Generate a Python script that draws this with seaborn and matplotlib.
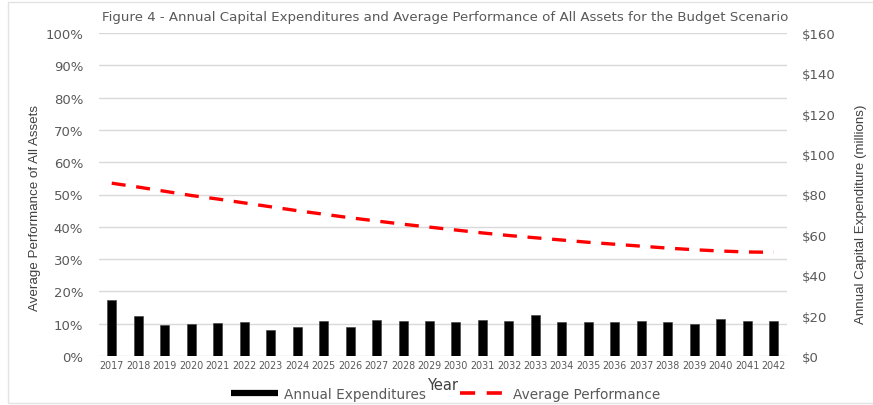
import numpy as np
import pandas as pd
import matplotlib
matplotlib.use("Agg")
import matplotlib.pyplot as plt
from matplotlib.patches import Rectangle
from matplotlib.lines import Line2D
from matplotlib.ticker import FuncFormatter, MultipleLocator
from matplotlib import font_manager
import seaborn as sns

# ---- data ----
years = list(range(2017, 2043))
expenditures = [27.7, 19.7, 15.5, 15.7, 16.2, 16.8, 12.7, 14.2, 17.3, 14.3,
                17.7, 17.3, 17.2, 16.8, 17.7, 17.2, 20.5, 16.8, 16.8, 16.7,
                17.5, 17.0, 16.0, 18.2, 17.5, 17.5]          # $ millions
performance = [53.5, 52.3, 51.0, 49.7, 48.6, 47.4, 46.2, 45.0, 43.9, 42.8,
               41.8, 40.8, 39.9, 39.0, 38.1, 37.3, 36.6, 35.9, 35.2, 34.6,
               34.0, 33.4, 32.9, 32.5, 32.2, 32.1]            # percent
title = "Figure 4 - Annual Capital Expenditures and Average Performance of All Assets for the Budget Scenario"

df = pd.DataFrame({"Year": [str(y) for y in years],
                   "pos": np.arange(len(years)),
                   "Expenditures": expenditures,
                   "Performance": performance})

sns.set_theme(style="white")
plt.rcParams["font.family"] = ["DejaVu Sans"]

# a narrower face for the axis titles
installed = {f.name for f in font_manager.fontManager.ttflist}
if "Liberation Sans Narrow" in installed:
    label_font = dict(family="Liberation Sans Narrow", fontsize=11)
elif "Liberation Sans" in installed:
    label_font = dict(family="Liberation Sans", fontsize=9.6)
else:
    label_font = dict(family="DejaVu Sans", fontsize=8.4)

tick_gray = "#595959"
grid_gray = "#d9d9d9"

fig = plt.figure(figsize=(8.73, 4.06), dpi=100)
fig.patch.set_facecolor("white")
# light frame around the chart
fig.patches.append(Rectangle((8 / 873, 2 / 406), 1.0, 401 / 406, transform=fig.transFigure,
                             fill=False, edgecolor="#e3e3e3", linewidth=1.0, zorder=0))

ax = fig.add_axes([98.5 / 873, 1 - 357 / 406, (787 - 98.5) / 873, (357 - 34) / 406])
ax2 = ax.twinx()

# performance line on the left (percent) axis
sns.lineplot(data=df, x="pos", y="Performance", ax=ax, color="#ff0000",
             linewidth=2.4, linestyle=(0, (4.2, 3.2)), legend=False)
ax.set_ylim(0, 100)
ax.yaxis.set_major_locator(MultipleLocator(10))
ax.yaxis.set_major_formatter(FuncFormatter(lambda v, p: f"{v:.0f}%"))
ax.grid(axis="y", color=grid_gray, linewidth=1.0)
ax.set_axisbelow(True)

# expenditures bars on the right ($ millions) axis
sns.barplot(data=df, x="Year", y="Expenditures", ax=ax2, color="black",
            width=0.34, saturation=1, edgecolor="#3a3a3a", linewidth=0.4)
ax2.set_ylim(0, 160)
ax2.yaxis.set_major_locator(MultipleLocator(20))
ax2.yaxis.set_major_formatter(FuncFormatter(lambda v, p: f"${v:.0f}"))
ax2.grid(False)

ax.set_xlim(-0.5, len(years) - 0.5)
ax2.set_xlim(-0.5, len(years) - 0.5)
ax.set_xticks(np.arange(len(years)))
ax.set_xticklabels([str(y) for y in years])
ax.tick_params(axis="x", labelsize=6.9, colors=tick_gray, length=0, pad=3)
ax.tick_params(axis="y", labelsize=9.5, colors=tick_gray, length=0, pad=11)
ax2.tick_params(axis="y", labelsize=9.5, colors=tick_gray, length=0, pad=11)
ax2.tick_params(axis="x", length=0, labelbottom=False)

for a in (ax, ax2):
    for s in a.spines.values():
        s.set_visible(False)

ax.set_xlabel("Year", fontsize=10.5, color="#404040", labelpad=5)
ax2.set_xlabel("")
ax.set_ylabel("Average Performance of All Assets", color="#404040",
              va="center", **label_font)
ax.yaxis.set_label_coords(-0.092, 0.462)
ax2.set_ylabel("Annual Capital Expenditure (millions)", color="#404040",
               va="center", **label_font)
ax2.yaxis.set_label_coords(1.107, 0.443)

fig.text(445 / 873, 1 - 18 / 406, title, ha="center", va="center",
         fontsize=9.6, color=tick_gray)

# legend along the bottom
handles = [Line2D([], [], color="black", linewidth=4.5, solid_capstyle="butt"),
           Line2D([], [], color="#ff0000", linewidth=2.6, linestyle=(0, (4.2, 3.2)))]
fig.legend(handles, ["Annual Expenditures", "Average Performance"], ncol=2,
           loc="center", bbox_to_anchor=(446 / 873, 1 - 395 / 406), frameon=False,
           fontsize=9.8, labelcolor=tick_gray, handlelength=3.4, handletextpad=0.5,
           columnspacing=2.5, borderpad=0, borderaxespad=0)

fig.savefig("out.png", dpi=100, facecolor="white")
